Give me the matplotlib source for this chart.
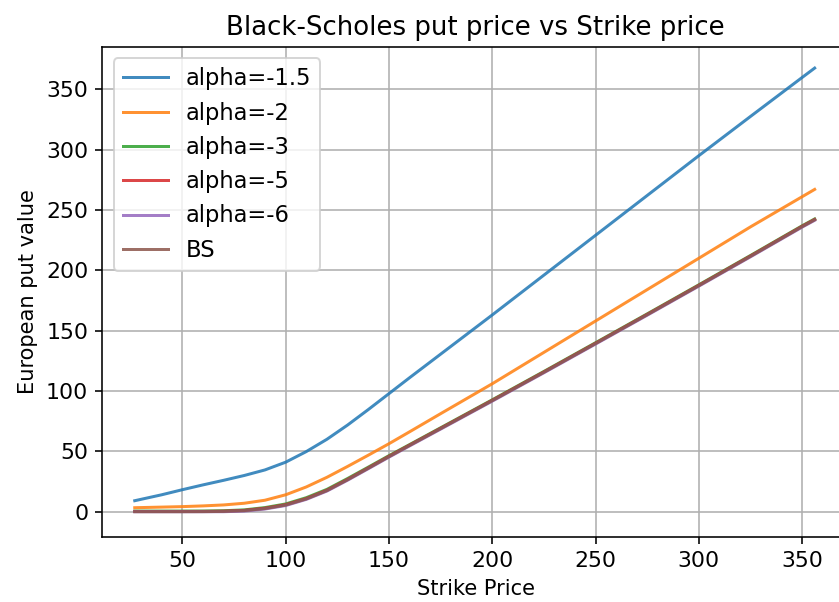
import matplotlib
matplotlib.use("Agg")
import matplotlib.pyplot as plt

# strike grid and put values for each alpha, plus the plain Black-Scholes curve
strikes = [27, 40, 50, 60, 70, 80, 90, 100, 110, 120, 130, 140, 150, 160,
           175, 200, 225, 250, 275, 300, 325, 350, 356]

put_a15 = [9.1, 14.0, 18.2, 22.2, 26.0, 30.0, 34.6, 41.0, 49.8, 60.0, 71.8,
           84.6, 97.8, 111.0, 130.5, 163.0, 196.0, 229.0, 262.0, 295.0,
           327.5, 359.8, 367.5]
put_a2 = [3.3, 3.8, 4.2, 4.8, 5.6, 7.0, 9.5, 14.0, 20.5, 28.5, 37.5, 46.8,
          56.3, 66.2, 81.2, 106.0, 132.0, 158.0, 184.0, 210.0, 236.0, 261.0,
          267.0]
put_a3 = [0.5, 0.5, 0.5, 0.55, 0.8, 1.5, 3.4, 6.4, 11.6, 18.5, 27.5, 36.9,
          46.4, 55.6, 69.5, 92.7, 116.2, 140.0, 163.9, 188.0, 212.3, 236.9,
          242.5]
put_a5 = [0.2, 0.2, 0.2, 0.25, 0.45, 1.1, 2.9, 5.8, 10.9, 17.8, 26.8, 36.3,
          45.9, 55.2, 69.1, 92.3, 115.8, 139.6, 163.5, 187.6, 211.9, 236.5,
          242.1]
put_a6 = [0.0, 0.0, 0.0, 0.0, 0.0, 0.5, 2.2, 5.1, 10.2, 17.1, 26.1, 35.6,
          45.2, 54.5, 68.4, 91.6, 115.1, 138.9, 162.8, 186.9, 211.2, 235.8,
          241.4]
put_bs = [0.0, 0.0, 0.0, 0.05, 0.25, 0.9, 2.6, 5.5, 10.6, 17.5, 26.5, 36.0,
          45.6, 54.9, 68.8, 92.0, 115.5, 139.3, 163.2, 187.3, 211.6, 236.2,
          241.8]

series = [
    ("alpha=-1.5", put_a15),
    ("alpha=-2", put_a2),
    ("alpha=-3", put_a3),
    ("alpha=-5", put_a5),
    ("alpha=-6", put_a6),
    ("BS", put_bs),
]

fig = plt.figure(figsize=(839 / 144, 602 / 144), dpi=144)
ax = fig.add_axes([102.3 / 839, 0.1085, 0.8897, 0.8135])

for label, values in series:
    ax.plot(strikes, values, label=label, alpha=0.85)

ax.set_xlim(11.3, 372.5)
ax.set_ylim(-20.7, 385)
ax.set_xticks([50, 100, 150, 200, 250, 300, 350])
ax.set_yticks([0, 50, 100, 150, 200, 250, 300, 350])
ax.tick_params(labelsize=11)
ax.grid(True)
ax.legend(loc="upper left", fontsize=11.3)
ax.set_title("Black-Scholes put price vs Strike price", fontsize=13)
ax.set_xlabel("Strike Price", fontsize=10.5)
ax.set_ylabel("European put value", fontsize=10.5)

fig.savefig("out.png", dpi=144)
